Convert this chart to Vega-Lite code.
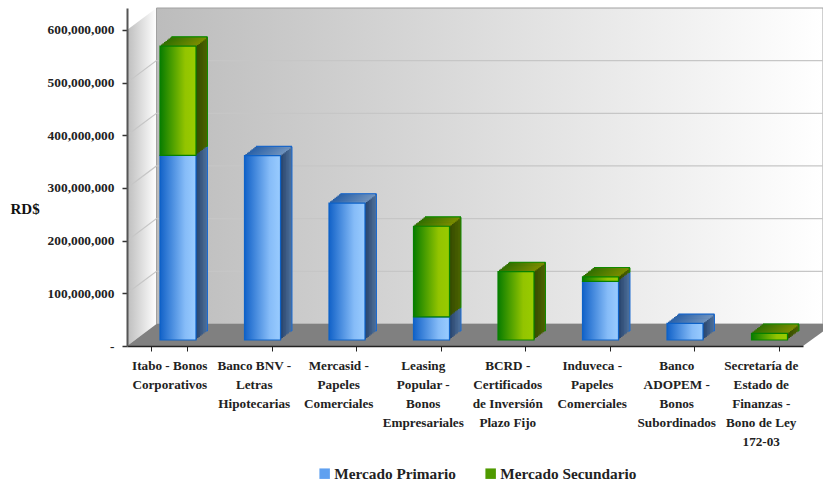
{
"$schema":"https://vega.github.io/schema/vega-lite/v6.json",
"width":696,"height":338,
"autosize":"none",
"padding":{"left":127,"top":8,"right":0,"bottom":135},
"background":"white",
"config":{"view":{"stroke":null},"font":"Liberation Serif"},
"datasets":{
"paredes":[
{"pared":"fondo","x":0.349,"y":41800000,"y2":641700000},
{"pared":"fondo","x":8.237,"y":41800000,"y2":641700000},
{"pared":"lateral","x":0,"y":0,"y2":600000000},
{"pared":"lateral","x":0.349,"y":41800000,"y2":641700000},
{"pared":"piso","x":0,"y":0,"y2":0},
{"pared":"piso","x":0.349,"y":0,"y2":41800000},
{"pared":"piso","x":8,"y":0,"y2":41800000},
{"pared":"piso","x":8.237,"y":27700000,"y2":41800000}
],
"rejilla":[
{"v":100000000,"x":0,"y":100000000},{"v":100000000,"x":0.349,"y":141800000},{"v":100000000,"x":8.237,"y":141800000},
{"v":200000000,"x":0,"y":200000000},{"v":200000000,"x":0.349,"y":241800000},{"v":200000000,"x":8.237,"y":241800000},
{"v":300000000,"x":0,"y":300000000},{"v":300000000,"x":0.349,"y":341800000},{"v":300000000,"x":8.237,"y":341800000},
{"v":400000000,"x":0,"y":400000000},{"v":400000000,"x":0.349,"y":441800000},{"v":400000000,"x":8.237,"y":441800000},
{"v":500000000,"x":0,"y":500000000},{"v":500000000,"x":0.349,"y":541800000},{"v":500000000,"x":8.237,"y":541800000}
],
"montos":[
{"Emisor":"Itabo - Bonos\nCorporativos","Mercado":"Mercado Primario","Monto":350500000},
{"Emisor":"Itabo - Bonos\nCorporativos","Mercado":"Mercado Secundario","Monto":207500000},
{"Emisor":"Banco BNV -\nLetras\nHipotecarias","Mercado":"Mercado Primario","Monto":350000000},
{"Emisor":"Mercasid -\nPapeles\nComerciales","Mercado":"Mercado Primario","Monto":260000000},
{"Emisor":"Leasing\nPopular -\nBonos\nEmpresariales","Mercado":"Mercado Primario","Monto":44000000},
{"Emisor":"Leasing\nPopular -\nBonos\nEmpresariales","Mercado":"Mercado Secundario","Monto":172000000},
{"Emisor":"BCRD -\nCertificados\nde Inversión\nPlazo Fijo","Mercado":"Mercado Secundario","Monto":130000000},
{"Emisor":"Induveca -\nPapeles\nComerciales","Mercado":"Mercado Primario","Monto":111400000},
{"Emisor":"Induveca -\nPapeles\nComerciales","Mercado":"Mercado Secundario","Monto":8600000},
{"Emisor":"Banco\nADOPEM -\nBonos\nSubordinados","Mercado":"Mercado Primario","Monto":31500000},
{"Emisor":"Secretaría de\nEstado de\nFinanzas -\nBono de Ley\n172-03","Mercado":"Mercado Secundario","Monto":12700000}
]
},
"resolve":{"scale":{"x":"independent"},"axis":{"x":"independent"}},
"layer":[
{"layer":[
{"data":{"name":"paredes"},"transform":[{"filter":"datum.pared=='lateral'"}],
"mark":{"type":"area","orient":"vertical","color":{"gradient":"linear","x1":0,"y1":0,"x2":1,"y2":0,"stops":[{"offset":0,"color":"#bdbdbd"},{"offset":1,"color":"#ffffff"}]}},
"encoding":{"x":{"field":"x","type":"quantitative","scale":{"domain":[0,8.237],"nice":false,"zero":false},"axis":null},
"y":{"field":"y","type":"quantitative","stack":null,"scale":{"domain":[0,641700000],"nice":false,"zero":false},"title":"RD$",
"axis":{"values":[0,100000000,200000000,300000000,400000000,500000000,600000000],"labelExpr":"datum.value==0?'-':format(datum.value,',')","grid":false,"zindex":1,"domainColor":"#555555","domainWidth":2,"tickColor":"#333333","tickSize":5,"tickWidth":1.5,"labelFont":"Liberation Serif","labelFontWeight":"bold","labelFontSize":13.4,"labelColor":"#222222","labelPadding":8,"labelBound":false,"titleFont":"Liberation Serif","titleFontWeight":"bold","titleFontSize":15,"titleColor":"#111111","titleAngle":0,"titleAlign":"left","titleBaseline":"middle","titleX":-117,"titleY":200}},
"y2":{"field":"y2"}}},
{"data":{"name":"paredes"},"transform":[{"filter":"datum.pared=='fondo'"}],
"mark":{"type":"area","orient":"vertical","strokeWidth":1,"color":{"gradient":"linear","x1":0,"y1":0,"x2":1,"y2":0,"stops":[{"offset":0,"color":"#bcbcbc"},{"offset":1,"color":"#ffffff"}]},"stroke":"#a0a0a0"},
"encoding":{"x":{"field":"x","type":"quantitative","axis":null},"y":{"field":"y","type":"quantitative","stack":null},"y2":{"field":"y2"}}},
{"data":{"name":"rejilla"},"mark":{"type":"line","color":"#c6c6c6","strokeWidth":1.2},
"encoding":{"x":{"field":"x","type":"quantitative","axis":null},"y":{"field":"y","type":"quantitative"},"detail":{"field":"v"}}},
{"data":{"name":"paredes"},"transform":[{"filter":"datum.pared=='piso'"}],
"mark":{"type":"area","orient":"vertical","color":"#808080"},
"encoding":{"x":{"field":"x","type":"quantitative","axis":null},"y":{"field":"y","type":"quantitative","stack":null},"y2":{"field":"y2"}}}
]},
{"data":{"name":"montos"},
"transform":[
{"stack":"Monto","groupby":["Emisor"],"sort":[{"field":"Mercado","order":"ascending"}],"as":["y0","y1"]},
{"joinaggregate":[{"op":"max","field":"y1","as":"tope"}],"groupby":["Emisor"]}
],
"encoding":{"x":{"field":"Emisor","type":"nominal","sort":null,"scale":{"range":[0,676],"paddingInner":0.574,"paddingOuter":0.287},"title":null,
"axis":{"labelExpr":"split(datum.label,'\\n')","labelAngle":0,"labelFont":"Liberation Serif","labelFontWeight":"bold","labelFontSize":13.2,"labelColor":"#222222","labelLineHeight":19,"labelPadding":8,"labelBaseline":"top","labelOverlap":false,"labelBound":false,"labelLimit":0,"tickBand":"extent","tickSize":5,"tickColor":"#222222","domainColor":"#222222","domainWidth":1.5,"zindex":1,"grid":false}}},
"layer":[
{"mark":{"type":"bar","xOffset":20.25,"yOffset":-15,"y2Offset":-15,"strokeWidth":1},"encoding":{"y":{"field":"y1","type":"quantitative"},"y2":{"field":"y0"},"fill":{"condition":{"test":"datum.Mercado=='Mercado Primario'","value":"#4d6f9a"},"value":"#4b6300"},"stroke":{"condition":{"test":"datum.Mercado=='Mercado Primario'","value":"#1a6ad0"},"value":"#118a00"}}},
{"mark":{"type":"bar","xOffset":18.75,"yOffset":-13.8,"y2Offset":-13.8},"encoding":{"y":{"field":"y1","type":"quantitative"},"y2":{"field":"y0"},"fill":{"condition":{"test":"datum.Mercado=='Mercado Primario'","value":"#486a94"},"value":"#486000"}}},
{"mark":{"type":"bar","xOffset":17.25,"yOffset":-12.6,"y2Offset":-12.6},"encoding":{"y":{"field":"y1","type":"quantitative"},"y2":{"field":"y0"},"fill":{"condition":{"test":"datum.Mercado=='Mercado Primario'","value":"#43648d"},"value":"#455c00"}}},
{"mark":{"type":"bar","xOffset":15.75,"yOffset":-11.5,"y2Offset":-11.5},"encoding":{"y":{"field":"y1","type":"quantitative"},"y2":{"field":"y0"},"fill":{"condition":{"test":"datum.Mercado=='Mercado Primario'","value":"#3e5d86"},"value":"#425900"}}},
{"mark":{"type":"bar","xOffset":14.25,"yOffset":-10.3,"y2Offset":-10.3},"encoding":{"y":{"field":"y1","type":"quantitative"},"y2":{"field":"y0"},"fill":{"condition":{"test":"datum.Mercado=='Mercado Primario'","value":"#38567f"},"value":"#3f5500"}}},
{"mark":{"type":"bar","xOffset":12.75,"yOffset":-9.1,"y2Offset":-9.1},"encoding":{"y":{"field":"y1","type":"quantitative"},"y2":{"field":"y0"},"fill":{"condition":{"test":"datum.Mercado=='Mercado Primario'","value":"#335079"},"value":"#3c5200"}}},
{"mark":{"type":"bar","xOffset":11.25,"yOffset":-8,"y2Offset":-8},"encoding":{"y":{"field":"y1","type":"quantitative"},"y2":{"field":"y0"},"fill":{"condition":{"test":"datum.Mercado=='Mercado Primario'","value":"#2d4a73"},"value":"#384e00"}}},
{"mark":{"type":"bar","xOffset":9.75,"yOffset":-6.8,"y2Offset":-6.8},"encoding":{"y":{"field":"y1","type":"quantitative"},"y2":{"field":"y0"},"fill":{"condition":{"test":"datum.Mercado=='Mercado Primario'","value":"#27446e"},"value":"#354a00"}}},
{"transform":[{"filter":"datum.y1==datum.tope"}],"mark":{"type":"rect","height":1.8,"xOffset":20.25,"yOffset":-15},"encoding":{"y":{"field":"y1","type":"quantitative"},"fill":{"condition":{"test":"datum.Mercado=='Mercado Primario'","value":"#1a66c8"},"value":"#118a00"}}},
{"transform":[{"filter":"datum.y1==datum.tope"}],"mark":{"type":"rect","height":1.8,"xOffset":18.75,"yOffset":-13.8},"encoding":{"y":{"field":"y1","type":"quantitative"},"fill":{"condition":{"test":"datum.Mercado=='Mercado Primario'","value":{"gradient":"linear","x1":0,"y1":0,"x2":1,"y2":0,"stops":[{"offset":0,"color":"#2860a8"},{"offset":1,"color":"#6f92bd"}]}},"value":{"gradient":"linear","x1":0,"y1":0,"x2":1,"y2":0,"stops":[{"offset":0,"color":"#2f6f00"},{"offset":1,"color":"#7a8c00"}]}}}},
{"transform":[{"filter":"datum.y1==datum.tope"}],"mark":{"type":"rect","height":1.8,"xOffset":17.25,"yOffset":-12.6},"encoding":{"y":{"field":"y1","type":"quantitative"},"fill":{"condition":{"test":"datum.Mercado=='Mercado Primario'","value":{"gradient":"linear","x1":0,"y1":0,"x2":1,"y2":0,"stops":[{"offset":0,"color":"#2860a8"},{"offset":1,"color":"#6f92bd"}]}},"value":{"gradient":"linear","x1":0,"y1":0,"x2":1,"y2":0,"stops":[{"offset":0,"color":"#2f6f00"},{"offset":1,"color":"#7a8c00"}]}}}},
{"transform":[{"filter":"datum.y1==datum.tope"}],"mark":{"type":"rect","height":1.8,"xOffset":15.75,"yOffset":-11.5},"encoding":{"y":{"field":"y1","type":"quantitative"},"fill":{"condition":{"test":"datum.Mercado=='Mercado Primario'","value":{"gradient":"linear","x1":0,"y1":0,"x2":1,"y2":0,"stops":[{"offset":0,"color":"#2860a8"},{"offset":1,"color":"#6f92bd"}]}},"value":{"gradient":"linear","x1":0,"y1":0,"x2":1,"y2":0,"stops":[{"offset":0,"color":"#2f6f00"},{"offset":1,"color":"#7a8c00"}]}}}},
{"transform":[{"filter":"datum.y1==datum.tope"}],"mark":{"type":"rect","height":1.8,"xOffset":14.25,"yOffset":-10.3},"encoding":{"y":{"field":"y1","type":"quantitative"},"fill":{"condition":{"test":"datum.Mercado=='Mercado Primario'","value":{"gradient":"linear","x1":0,"y1":0,"x2":1,"y2":0,"stops":[{"offset":0,"color":"#2860a8"},{"offset":1,"color":"#6f92bd"}]}},"value":{"gradient":"linear","x1":0,"y1":0,"x2":1,"y2":0,"stops":[{"offset":0,"color":"#2f6f00"},{"offset":1,"color":"#7a8c00"}]}}}},
{"transform":[{"filter":"datum.y1==datum.tope"}],"mark":{"type":"rect","height":1.8,"xOffset":12.75,"yOffset":-9.1},"encoding":{"y":{"field":"y1","type":"quantitative"},"fill":{"condition":{"test":"datum.Mercado=='Mercado Primario'","value":{"gradient":"linear","x1":0,"y1":0,"x2":1,"y2":0,"stops":[{"offset":0,"color":"#2860a8"},{"offset":1,"color":"#6f92bd"}]}},"value":{"gradient":"linear","x1":0,"y1":0,"x2":1,"y2":0,"stops":[{"offset":0,"color":"#2f6f00"},{"offset":1,"color":"#7a8c00"}]}}}},
{"transform":[{"filter":"datum.y1==datum.tope"}],"mark":{"type":"rect","height":1.8,"xOffset":11.25,"yOffset":-8},"encoding":{"y":{"field":"y1","type":"quantitative"},"fill":{"condition":{"test":"datum.Mercado=='Mercado Primario'","value":{"gradient":"linear","x1":0,"y1":0,"x2":1,"y2":0,"stops":[{"offset":0,"color":"#2860a8"},{"offset":1,"color":"#6f92bd"}]}},"value":{"gradient":"linear","x1":0,"y1":0,"x2":1,"y2":0,"stops":[{"offset":0,"color":"#2f6f00"},{"offset":1,"color":"#7a8c00"}]}}}},
{"transform":[{"filter":"datum.y1==datum.tope"}],"mark":{"type":"rect","height":1.8,"xOffset":9.75,"yOffset":-6.8},"encoding":{"y":{"field":"y1","type":"quantitative"},"fill":{"condition":{"test":"datum.Mercado=='Mercado Primario'","value":{"gradient":"linear","x1":0,"y1":0,"x2":1,"y2":0,"stops":[{"offset":0,"color":"#2860a8"},{"offset":1,"color":"#6f92bd"}]}},"value":{"gradient":"linear","x1":0,"y1":0,"x2":1,"y2":0,"stops":[{"offset":0,"color":"#2f6f00"},{"offset":1,"color":"#7a8c00"}]}}}},
{"mark":{"type":"bar","xOffset":8.75,"yOffset":-6,"y2Offset":-6},
"encoding":{"y":{"field":"y1","type":"quantitative"},"y2":{"field":"y0"},
"fill":{"field":"Mercado","type":"nominal","scale":{"domain":["Mercado Primario","Mercado Secundario"],"range":["#5fa0f0","#4f9a00"]},
"legend":{"orient":"none","legendX":190,"legendY":458,"direction":"horizontal","title":null,"padding":0,"columnPadding":27,"symbolType":"square","symbolSize":110,"symbolStrokeWidth":0,"labelFont":"Liberation Serif","labelFontWeight":"bold","labelFontSize":15.3,"labelColor":"#222222","labelOffset":2,"labelLimit":0}}}},
{"mark":{"type":"bar","xOffset":8.75,"yOffset":-6,"y2Offset":-6,"strokeWidth":1.2},
"encoding":{"y":{"field":"y1","type":"quantitative"},"y2":{"field":"y0"},
"stroke":{"condition":{"test":"datum.Mercado=='Mercado Primario'","value":"#0d62c8"},"value":"#078000"},
"fill":{"condition":{"test":"datum.Mercado=='Mercado Primario'","value":{"gradient":"linear","x1":0,"y1":0,"x2":1,"y2":0,"stops":[{"offset":0,"color":"#1262c8"},{"offset":0.7,"color":"#86bcf8"},{"offset":1,"color":"#9accff"}]}},"value":{"gradient":"linear","x1":0,"y1":0,"x2":1,"y2":0,"stops":[{"offset":0,"color":"#087c00"},{"offset":0.7,"color":"#93c400"},{"offset":1,"color":"#99cc00"}]}}}}
]}
]
}
